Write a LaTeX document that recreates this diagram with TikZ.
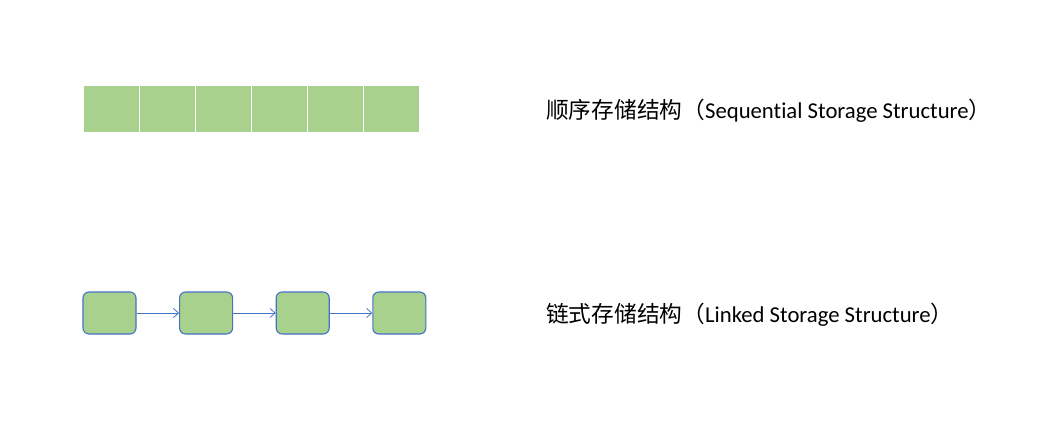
\documentclass[tikz,border=0pt]{standalone}
\usepackage{fontspec}
\setmainfont{Carlito}[Ligatures={NoCommon,NoContextual}, Contextuals=NoAlternate, RawFeature={-liga;-clig;-dlig}]
\newfontfamily\cjk{Noto Sans CJK SC}
\usetikzlibrary{positioning, arrows.meta}
\definecolor{cellgreen}{HTML}{A9D18E}
\definecolor{edgeblue}{HTML}{4472C4}

\begin{document}
\begin{tikzpicture}[
  x=1pt, y=-1pt,
  cell/.style={rectangle, fill=cellgreen, draw=white, line width=0.8pt, outer sep=0pt,
    minimum width=56pt, minimum height=47pt, inner sep=0pt},
  linkbox/.style={rectangle, rounded corners=6pt, fill=cellgreen, draw=edgeblue, line width=1.1pt,
    minimum width=53pt, minimum height=42pt, inner sep=0pt},
  link/.style={draw=edgeblue, line width=0.8pt, -{Straight Barb[length=5pt, width=9pt]}},
  caption/.style={anchor=base west, inner sep=0pt, font=\fontsize{22.7}{27}\selectfont}
]
  \useasboundingbox (0,0) rectangle (1048,444);

  % sequential storage
  \node [cell] (c1) at (111.5,108.5) {};
  \node [cell, right=0pt of c1] (c2) {};
  \node [cell, right=0pt of c2] (c3) {};
  \node [cell, right=0pt of c3] (c4) {};
  \node [cell, right=0pt of c4] (c5) {};
  \node [cell, right=0pt of c5] (c6) {};
  \node [caption] (seq) at (546,118) {{\cjk 顺序存储结构（}Sequential Storage Structure{\cjk ）}};

  % linked storage
  \node [linkbox] (b1) at (109.5,313) {};
  \node [linkbox, right=42.5pt of b1] (b2) {};
  \node [linkbox, right=42.5pt of b2] (b3) {};
  \node [linkbox, right=42.5pt of b3] (b4) {};
  \draw [link] (b1) -- (b2);
  \draw [link] (b2) -- (b3);
  \draw [link] (b3) -- (b4);
  \node [caption] (lnk) at (546,322) {{\cjk 链式存储结构（}Linked Storage Structure{\cjk ）}};
\end{tikzpicture}
\end{document}
